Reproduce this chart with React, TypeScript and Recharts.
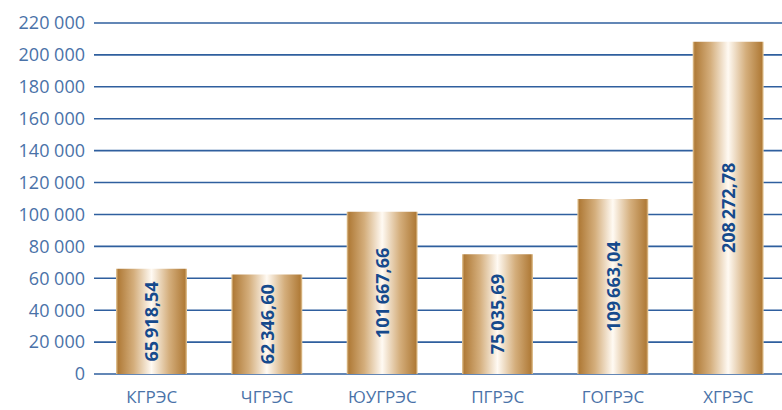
import { Bar, BarChart, CartesianGrid, LabelList, XAxis, YAxis } from "recharts";

const STATIONS = ["КГРЭС", "ЧГРЭС", "ЮУГРЭС", "ПГРЭС", "ГОГРЭС", "ХГРЭС"];
const VALUES = [65918.54, 62346.6, 101667.66, 75035.69, 109663.04, 208272.78];
const Y_TICKS = [0, 20000, 40000, 60000, 80000, 100000, 120000, 140000, 160000, 180000, 200000, 220000];

const data = STATIONS.map((name, i) => ({ name, value: VALUES[i] }));

const groupThousands = (n: number) =>
  String(n).replace(/\B(?=(\d{3})+(?!\d))/g, "\u2009");

const fmtTick = (v: number) => groupThousands(v).replace(/\u2009/g, " ");

const fmtValue = (v: number) => {
  const [int, dec] = v.toFixed(2).split(".");
  return groupThousands(Number(int)) + "," + dec;
};

const FONT = "'Open Sans', 'DejaVu Sans', sans-serif";

function ValueLabel(props: any) {
  const { x, y, width, height, value } = props;
  const cx = x + width / 2;
  const cy = y + height / 2;
  return (
    <text
      x={cx}
      y={cy}
      transform={`rotate(-90 ${cx} ${cy})`}
      textAnchor="middle"
      dominantBaseline="central"
      fill="#164a8c"
      fontFamily={FONT}
      fontWeight={700}
      fontSize={18}
    >
      {fmtValue(value)}
    </text>
  );
}

export default function App() {
  return (
    <div
      style={{
        position: "absolute",
        left: 0,
        top: 0,
        width: 782,
        height: 410,
        overflow: "hidden",
        background: "#fff",
      }}
    >
      <BarChart
        width={786}
        height={410}
        data={data}
        margin={{ top: 23, right: 0, bottom: 0, left: 0 }}
        barSize={71}
      >
        <defs>
          <linearGradient id="gold" x1="0" y1="0" x2="1" y2="0">
            <stop offset="0%" stopColor="#e9cfa3" />
            <stop offset="3%" stopColor="#b07b38" />
            <stop offset="25%" stopColor="#d4ae7c" />
            <stop offset="50%" stopColor="#fffaf3" />
            <stop offset="75%" stopColor="#d4ae7c" />
            <stop offset="97%" stopColor="#b07b38" />
            <stop offset="100%" stopColor="#e9cfa3" />
          </linearGradient>
        </defs>
        <CartesianGrid vertical={false} stroke="#2f5f9e" strokeWidth={1.6} />
        <XAxis
          dataKey="name"
          height={36}
          axisLine={false}
          tickLine={false}
          tickSize={0}
          tickMargin={17}
          tick={{ fill: "#4a72a8", fontSize: 17, fontFamily: FONT }}
        />
        <YAxis
          width={94}
          domain={[0, 220000]}
          ticks={Y_TICKS}
          interval={0}
          axisLine={false}
          tickLine={false}
          tickSize={0}
          tickMargin={9}
          tickFormatter={fmtTick}
          tick={{ fill: "#4a72a8", fontSize: 18, fontFamily: FONT }}
        />
        <Bar dataKey="value" fill="url(#gold)" isAnimationActive={false}>
          <LabelList dataKey="value" content={<ValueLabel />} />
        </Bar>
      </BarChart>
    </div>
  );
}
